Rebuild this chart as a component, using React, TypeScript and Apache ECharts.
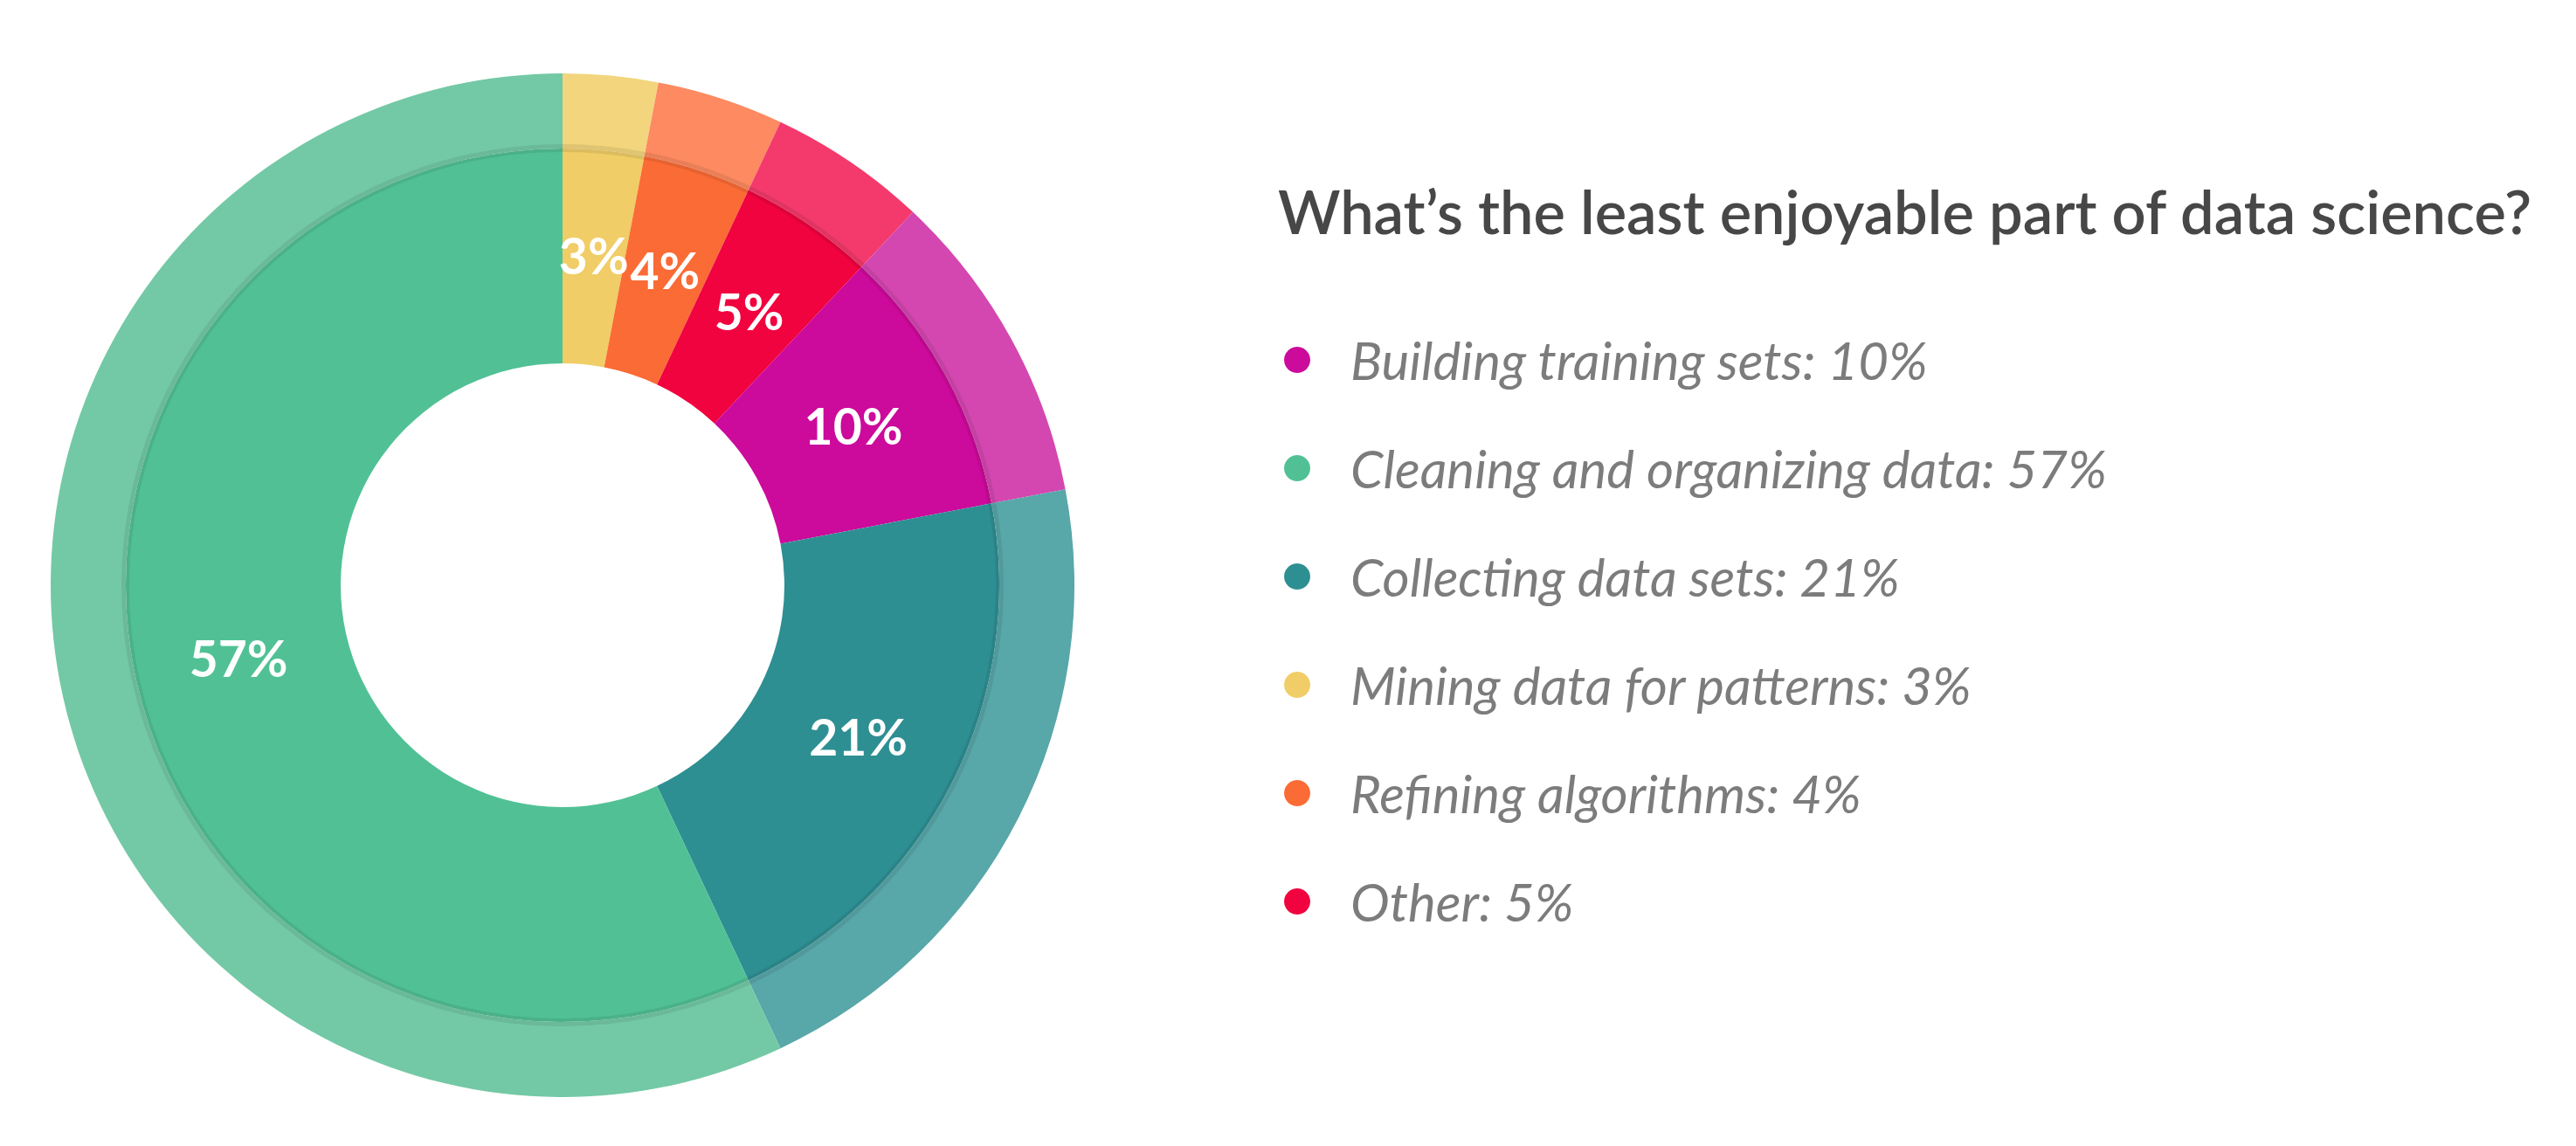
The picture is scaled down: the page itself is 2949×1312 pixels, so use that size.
import React, { useEffect, useRef } from "react";
import * as echarts from "echarts";

// Slices in clockwise order from 12 o'clock
const sliceNames = [
  "Mining data for patterns",
  "Refining algorithms",
  "Other",
  "Building training sets",
  "Collecting data sets",
  "Cleaning and organizing data",
];
const sliceValues = [3, 4, 5, 10, 21, 57];
const innerColors = ["#f0cd66", "#fb6b35", "#f0033f", "#cc0a9b", "#2e8f92", "#51c195"];
const outerColors = ["#f2d57c", "#fd8a60", "#f43a6c", "#d447b0", "#58a7a9", "#73c9a5"];

// Legend order
const legendNames = [
  "Building training sets",
  "Cleaning and organizing data",
  "Collecting data sets",
  "Mining data for patterns",
  "Refining algorithms",
  "Other",
];

const titleText = "What\u2019s the least enjoyable part of data science?";

export default function App() {
  const ref = useRef<HTMLDivElement>(null);
  useEffect(() => {
    document.body.style.margin = "0";
    const chart = echarts.init(ref.current!, null, { renderer: "svg" });
    const valueOf: Record<string, number> = {};
    sliceNames.forEach((n, i) => (valueOf[n] = sliceValues[i]));
    const center = [644, 670];
    chart.setOption({
      animation: false,
      backgroundColor: "#ffffff",
      title: {
        text: titleText,
        left: 1458,
        top: 200,
        textStyle: {
          fontFamily: "Lato",
          fontSize: 68.6,
          fontWeight: 600,
          color: "#474747",
          lineHeight: 72,
        },
      },
      legend: {
        orient: "vertical",
        left: 1465,
        top: 376,
        data: legendNames,
        icon: "circle",
        itemWidth: 112,
        itemHeight: 30,
        itemGap: 62,
        selectedMode: false,
        formatter: (name: string) => `${name}: ${valueOf[name]}%`,
        textStyle: {
          fontFamily: "Lato",
          fontStyle: "italic",
          fontSize: 60,
          lineHeight: 62,
          color: "#7c7c7c",
        },
      },
      series: [
        {
          type: "pie",
          center,
          radius: [254, 500],
          startAngle: 90,
          silent: true,
          label: {
            show: true,
            position: "inside",
            formatter: "{c}%",
            color: "#ffffff",
            fontFamily: "Lato",
            fontWeight: "bold",
            fontSize: 57,
          },
          labelLine: { show: false },
          emphasis: { disabled: true },
          data: sliceNames.map((n, i) => ({
            name: n,
            value: sliceValues[i],
            itemStyle: { color: innerColors[i] },
          })),
        },
        {
          type: "pie",
          center,
          radius: [500, 586],
          startAngle: 90,
          silent: true,
          label: { show: false },
          labelLine: { show: false },
          emphasis: { disabled: true },
          data: sliceNames.map((n, i) => ({
            name: n,
            value: sliceValues[i],
            itemStyle: { color: outerColors[i] },
          })),
        },
        {
          type: "pie",
          center,
          radius: [496, 505],
          startAngle: 90,
          silent: true,
          label: { show: false },
          labelLine: { show: false },
          emphasis: { disabled: true },
          data: sliceValues.map((v) => ({
            name: "",
            value: v,
            itemStyle: { color: "rgba(0,0,0,0.08)" },
          })),
        },
      ],
    });
    return () => chart.dispose();
  }, []);
  return (
    <div
      ref={ref}
      style={{ position: "absolute", left: 0, top: 0, width: 2949, height: 1312 }}
    />
  );
}
